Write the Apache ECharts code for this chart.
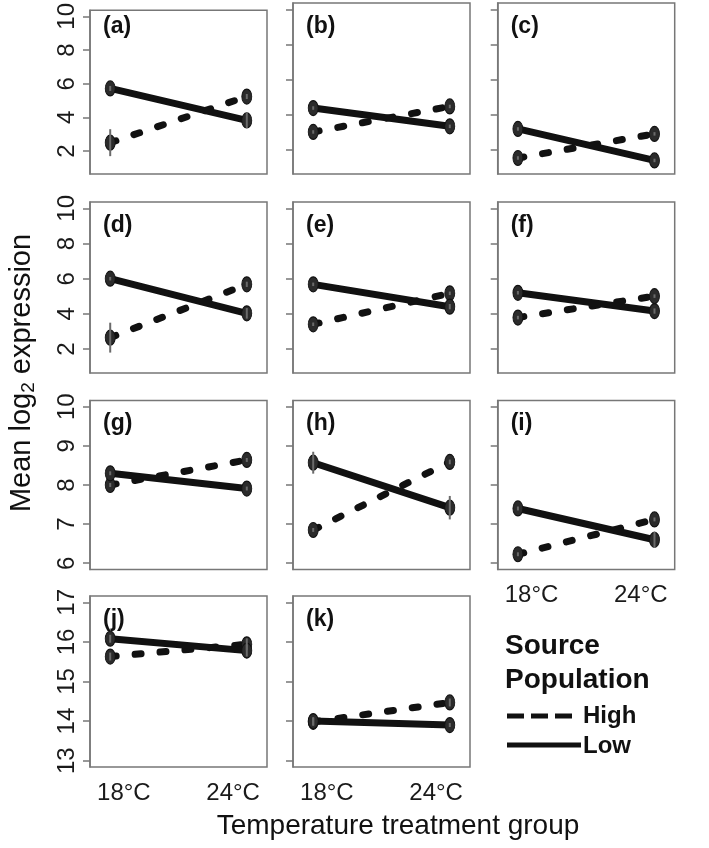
<!DOCTYPE html>
<html><head><meta charset="utf-8">
<script src="https://cdn.jsdelivr.net/npm/echarts@6/dist/echarts.min.js"></script>
<style>html,body{margin:0;padding:0;background:#fff}#c{width:709px;height:848px}</style>
</head><body><div id="c"></div>
<script>
// ---- data ----
const panelNames = ['(a)','(b)','(c)','(d)','(e)','(f)','(g)','(h)','(i)','(j)','(k)'];
const xCategories = ['18°C','24°C'];
const high18 = [2.50, 3.03, 1.55, 2.65, 3.41, 3.79, 8.00, 6.85, 6.23, 15.63, 13.98];
const high24 = [5.24, 4.48, 2.92, 5.68, 5.17, 5.01, 8.64, 8.59, 7.12, 15.94, 14.47];
const low18  = [5.72, 4.39, 3.20, 6.00, 5.68, 5.20, 8.30, 8.57, 7.40, 16.08, 14.00];
const low24  = [3.82, 3.35, 1.41, 4.03, 4.41, 4.16, 7.91, 7.42, 6.60, 15.78, 13.90];
const highErr18 = [0.80, 0.10, 0.10, 0.85, 0.10, 0.10, 0.05, 0.05, 0.05, 0.10, 0.10];
const highErr24 = [0.15, 0.10, 0.10, 0.15, 0.10, 0.10, 0.05, 0.06, 0.05, 0.15, 0.10];
const lowErr18  = [0.15, 0.10, 0.10, 0.10, 0.10, 0.10, 0.05, 0.28, 0.05, 0.10, 0.10];
const lowErr24  = [0.45, 0.10, 0.10, 0.30, 0.15, 0.15, 0.05, 0.30, 0.21, 0.15, 0.05];
const yTicksRow = [[2,4,6,8,10],[2,4,6,8,10],[6,7,8,9,10],[13,14,15,16,17]];
const yLimRow = [[1,10],[1,10],[6,10],[13,17]];
const xLim = [0.9, 2.1];
const xLabelAt = [1.1, 1.9];
const legendTitle = ['Source','Population'];
const legendNames = ['High','Low'];

// ---- layout ----
const colLeft = [90, 293, 497.7];
const colWidth = 177;
const rowTop = [3, 202, 400.5, 596];
const rowHeight = [171, 171, 169, 171];
const FONT = 'Liberation Sans, Arial, Helvetica, sans-serif';
const ext = (lim) => { const d = (lim[1]-lim[0])*0.04; return [lim[0]-d, lim[1]+d]; };
const xr = ext(xLim);

const grids = [], xAxes = [], yAxes = [], series = [], graphics = [];
panelNames.forEach((name, i) => {
  const row = Math.floor(i/3), col = i % 3;
  grids.push({left: colLeft[col], top: rowTop[row], width: colWidth, height: rowHeight[row],
    show: true, borderColor: '#777', borderWidth: 1.5, backgroundColor: 'transparent'});
  const showX = (i >= 8);
  xAxes.push({type: 'value', gridIndex: i, min: xr[0], max: xr[1],
    axisLine: {show: false}, axisTick: {show: false}, splitLine: {show: false},
    axisLabel: {show: showX, customValues: xLabelAt, margin: 14, fontSize: 24, color: '#1a1a1a', fontFamily: FONT,
      formatter: v => (v < 1.5 ? xCategories[0] : xCategories[1])}});
  const yr = ext(yLimRow[row]);
  yAxes.push({type: 'value', gridIndex: i, min: yr[0], max: yr[1],
    axisLine: {show: true, lineStyle: {color: '#777', width: 1.5}},
    axisTick: {show: true, customValues: yTicksRow[row], length: 7, lineStyle: {color: '#777', width: 1.5}},
    splitLine: {show: false},
    axisLabel: {show: col === 0, customValues: yTicksRow[row], rotate: 90, margin: 11, fontSize: 24,
      color: '#1a1a1a', fontFamily: FONT}});
  const mk = {symbol: 'circle', symbolSize: [10, 15], itemStyle: {color: '#2b2b2b', borderColor: '#111', borderWidth: 1}};
  series.push(Object.assign({type: 'line', name: legendNames[0], xAxisIndex: i, yAxisIndex: i,
    data: [[1, high18[i]], [2, high24[i]]], z: 3, silent: true,
    lineStyle: {color: '#111', width: 7, type: [6, 19], cap: 'round'}}, mk));
  series.push(Object.assign({type: 'line', name: legendNames[1], xAxisIndex: i, yAxisIndex: i,
    data: [[1, low18[i]], [2, low24[i]]], z: 4, silent: true,
    lineStyle: {color: '#111', width: 7, type: 'solid', cap: 'round'}}, mk));
  series.push({type: 'custom', xAxisIndex: i, yAxisIndex: i, z: 6, silent: true,
    data: [[1, high18[i]-highErr18[i], high18[i]+highErr18[i]],
           [2, high24[i]-highErr24[i], high24[i]+highErr24[i]],
           [1, low18[i]-lowErr18[i], low18[i]+lowErr18[i]],
           [2, low24[i]-lowErr24[i], low24[i]+lowErr24[i]]],
    renderItem: (params, api) => {
      const p1 = api.coord([api.value(0), api.value(1)]);
      const p2 = api.coord([api.value(0), api.value(2)]);
      return {type: 'line', shape: {x1: p1[0], y1: p1[1], x2: p2[0], y2: p2[1]},
        style: {stroke: '#6a6a6a', lineWidth: 2}};
    }});
  graphics.push({type: 'text', left: colLeft[col] + 13, top: rowTop[row] + 12,
    style: {text: name, font: 'bold 23px ' + FONT, fill: '#111'}});
});

// axis titles
graphics.push({type: 'text', x: 22, y: 373, rotation: Math.PI/2,
  style: {text: '{a|Mean log}{s|2}{a| expression}', align: 'center', verticalAlign: 'middle',
    rich: {a: {fontSize: 29, fontFamily: FONT, fill: '#111', lineHeight: 34},
           s: {fontSize: 19, fontFamily: FONT, fill: '#111', lineHeight: 34, padding: [14, 0, 0, 0]}}}});
graphics.push({type: 'text', x: 398, y: 826,
  style: {text: 'Temperature treatment group', align: 'center', verticalAlign: 'middle',
    font: '28px ' + FONT, fill: '#111'}});
// legend
graphics.push({type: 'text', x: 505, y: 646, style: {text: legendTitle[0], verticalAlign: 'middle', font: 'bold 28px ' + FONT, fill: '#111'}});
graphics.push({type: 'text', x: 505, y: 680, style: {text: legendTitle[1], verticalAlign: 'middle', font: 'bold 28px ' + FONT, fill: '#111'}});
graphics.push({type: 'line', shape: {x1: 507, y1: 716, x2: 572, y2: 716}, style: {stroke: '#111', lineWidth: 5, lineDash: [17, 7]}});
graphics.push({type: 'line', shape: {x1: 507, y1: 745, x2: 581, y2: 745}, style: {stroke: '#111', lineWidth: 5}});
graphics.push({type: 'text', x: 583, y: 716, style: {text: legendNames[0], verticalAlign: 'middle', font: 'bold 24px ' + FONT, fill: '#111'}});
graphics.push({type: 'text', x: 583, y: 746, style: {text: legendNames[1], verticalAlign: 'middle', font: 'bold 24px ' + FONT, fill: '#111'}});

const chart = echarts.init(document.getElementById('c'), null, {renderer: 'canvas'});
chart.setOption({animation: false, backgroundColor: '#fff', grid: grids, xAxis: xAxes, yAxis: yAxes,
  series: series, graphic: graphics});
</script></body></html>
